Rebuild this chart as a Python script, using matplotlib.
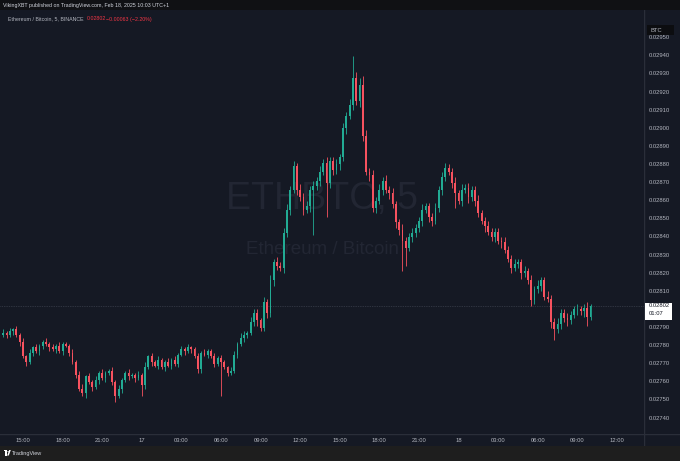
import matplotlib.pyplot as plt
import numpy as np
import pandas as pd
from matplotlib.patches import Rectangle, Circle, Polygon
from matplotlib.transforms import blended_transform_factory

plt.rcParams['font.family'] = ['Liberation Sans', 'DejaVu Sans']

# ETH/BTC, values in units of 0.00001 BTC, 15 min candles starting Feb 16 13:30
start = '2025-02-16 13:30'
first_open = 2786
closes = [
    2787, 2786, 2788, 2789, 2786, 2782, 2774, 2771, 2776, 2779,
    2777, 2780, 2782, 2781, 2779, 2778, 2780, 2777, 2781, 2780,
    2776, 2771, 2764, 2756, 2754, 2763, 2760, 2757, 2761, 2765,
    2762, 2765, 2766, 2760, 2752, 2756, 2761, 2765, 2763, 2764,
    2762, 2764, 2758, 2768, 2774, 2771, 2769, 2772, 2768, 2771,
    2769, 2772, 2770, 2775, 2778, 2777, 2779, 2778, 2774, 2767,
    2776, 2775, 2777, 2774, 2770, 2773, 2771, 2768, 2765, 2766,
    2775, 2781, 2784, 2786, 2787, 2793, 2798, 2794, 2790, 2804,
    2798, 2816, 2826, 2824, 2823, 2842, 2855, 2866, 2879, 2866,
    2862, 2855, 2857, 2866, 2868, 2871, 2876, 2881, 2870, 2882,
    2877, 2880, 2884, 2900, 2907, 2913, 2928, 2915, 2924, 2896,
    2876, 2874, 2856, 2860, 2866, 2871, 2866, 2864, 2858, 2848,
    2844, 2838, 2834, 2840, 2842, 2845, 2849, 2855, 2857, 2851,
    2849, 2856, 2866, 2873, 2878, 2876, 2870, 2864, 2860, 2866,
    2867, 2862, 2866, 2860, 2853, 2849, 2846, 2843, 2840, 2843,
    2838, 2837, 2833, 2828, 2823, 2825, 2826, 2820, 2821, 2816,
    2805, 2811, 2813, 2816, 2807, 2806, 2793, 2789, 2792, 2798,
    2795, 2794, 2797, 2800, 2800, 2799, 2801, 2796, 2802,
]
wick_up = [
    2, 1, 2, 1, 2, 1, 2, 1, 2, 1,
    2, 1, 1, 2, 1, 2, 1, 2, 1, 1,
    1, 2, 1, 2, 3, 1, 2, 1, 2, 1,
    2, 1, 1, 2, 1, 2, 1, 1, 2, 1,
    1, 2, 1, 3, 1, 2, 1, 2, 1, 1,
    2, 1, 2, 1, 2, 1, 2, 1, 1, 2,
    1, 2, 1, 1, 2, 1, 2, 1, 1, 2,
    2, 1, 3, 2, 1, 3, 2, 2, 1, 3,
    2, 3, 2, 3, 2, 3, 3, 2, 3, 2,
    3, 2, 3, 2, 3, 2, 3, 2, 3, 2,
    2, 3, 2, 3, 2, 3, 12, 3, 4, 5,
    3, 2, 3, 2, 3, 2, 3, 2, 3, 2,
    2, 3, 2, 2, 3, 2, 2, 3, 2, 2,
    2, 3, 2, 3, 3, 2, 2, 3, 2, 3,
    2, 3, 2, 2, 3, 2, 2, 3, 2, 2,
    2, 2, 3, 2, 2, 3, 2, 2, 3, 2,
    3, 2, 3, 2, 2, 3, 2, 2, 3, 2,
    2, 3, 2, 2, 3, 2, 2, 3, 1,
]
wick_dn = [
    1, 2, 1, 2, 1, 2, 1, 2, 1, 2,
    1, 2, 2, 1, 2, 1, 2, 1, 2, 1,
    2, 1, 2, 1, 2, 3, 1, 2, 1, 2,
    1, 2, 1, 2, 3, 1, 2, 1, 2, 1,
    2, 1, 6, 2, 1, 2, 1, 2, 1, 2,
    1, 2, 1, 2, 1, 2, 1, 2, 1, 2,
    2, 1, 2, 1, 2, 1, 19, 1, 2, 1,
    1, 2, 1, 2, 2, 1, 2, 3, 2, 2,
    3, 2, 3, 2, 2, 3, 2, 3, 2, 3,
    2, 3, 2, 3, 25, 2, 3, 2, 19, 3,
    3, 2, 3, 2, 3, 2, 3, 2, 3, 3,
    2, 3, 2, 3, 2, 3, 2, 3, 2, 3,
    3, 17, 10, 2, 3, 2, 2, 3, 2, 3,
    3, 2, 2, 3, 2, 2, 3, 8, 2, 3,
    2, 3, 2, 3, 2, 2, 3, 2, 2, 3,
    2, 3, 2, 2, 3, 2, 2, 3, 2, 2,
    3, 2, 2, 3, 2, 2, 3, 6, 2, 3,
    2, 3, 2, 2, 3, 2, 3, 5, 2,
]
price_ticks = [2740, 2750, 2760, 2770, 2780, 2790, 2810, 2820, 2830, 2840,
               2850, 2860, 2870, 2880, 2890, 2900, 2910, 2920, 2930, 2940, 2950]
last_price = 0.02802
change_text = '\u22120.00063 (\u22122.20%)'

BG = '#151924'
UP = '#22ab94'
DOWN = '#f7525f'
LINE = '#2a2e39'
TXT = '#b2b5be'
W, H = 680, 461


def fy(px):
    return 1 - px / H


c = np.array(closes) / 1e5
o = np.concatenate([[first_open], closes[:-1]]) / 1e5
hi = np.maximum(o, c) + np.array(wick_up) / 1e5
lo = np.minimum(o, c) - np.array(wick_dn) / 1e5
x = np.arange(len(c))
col = np.where(c >= o, UP, DOWN)

fig = plt.figure(figsize=(W / 100, H / 100), dpi=100, facecolor=BG)

ax = fig.add_axes([0, fy(434), 644 / W, 424 / H])
ax.set_facecolor(BG)
xlim = (-0.97, 194.2)
ylim = (0.027312, 0.029653)
ax.set_xlim(*xlim)
ax.set_ylim(*ylim)
for s in ax.spines.values():
    s.set_visible(False)
ax.set_xticks([])
ax.set_yticks([])

# watermark
ax.text(0.5, 0.555, 'ETHBTC, 5', transform=ax.transAxes, ha='center', va='center',
        fontsize=27, color='#222633', zorder=0)
ax.text(0.5, 0.435, 'Ethereum / Bitcoin', transform=ax.transAxes, ha='center', va='center',
        fontsize=13.5, color='#222633', zorder=0)

ax.axhline(last_price, color='#4a4f5c', lw=0.5, ls=(0, (1, 1.5)), zorder=1)

ax.vlines(x, lo, hi, colors=col, lw=0.6, zorder=2)
body = np.maximum(np.abs(c - o), 0.0000025)
ax.bar(x, body, bottom=np.minimum(o, c), width=0.55, color=col, linewidth=0, zorder=3)

# price scale
ax2 = fig.add_axes([644 / W, fy(434), 36 / W, 424 / H])
ax2.set_facecolor(BG)
ax2.set_ylim(*ylim)
ax2.set_xlim(0, 1)
ax2.set_xticks([])
ax2.set_yticks([])
for s in ax2.spines.values():
    s.set_visible(False)
ax2.axvline(0, color=LINE, lw=1)
for p in price_ticks:
    ax2.text(0.12, p / 1e5, '%.5f' % (p / 1e5), ha='left', va='center', fontsize=4.2, color=TXT)
tr = blended_transform_factory(ax2.transAxes, ax2.transData)
ax2.add_patch(Rectangle((0.03, last_price - 0.0000775), 0.76, 0.0000950, transform=tr,
                        facecolor='white', edgecolor='none', zorder=4))
ax2.text(0.12, last_price, '%.5f' % last_price, ha='left', va='center', fontsize=4.2,
         color='#131722', zorder=5)
ax2.text(0.12, last_price - 0.0000440, '01:07', ha='left', va='center',
         fontsize=4.2, color='#131722', zorder=5)
ax2.add_patch(Rectangle((0.08, 0.94), 0.75, 0.024, transform=ax2.transAxes,
                        facecolor='#0c0d10', edgecolor='none'))
ax2.text(0.18, 0.952, 'BTC', transform=ax2.transAxes, ha='left', va='center',
         fontsize=4.2, color=TXT)

# time scale
ax3 = fig.add_axes([0, fy(446), 644 / W, 12 / H])
ax3.set_facecolor(BG)
ax3.set_xlim(*xlim)
ax3.set_ylim(0, 1)
ax3.set_xticks([])
ax3.set_yticks([])
for s in ax3.spines.values():
    s.set_visible(False)
ax3.axhline(1, color=LINE, lw=1)
t0 = pd.Timestamp(start)
grid = pd.date_range(t0.floor('D'), periods=3 * 8, freq='3h')
for t in grid:
    pos = (t - t0) / pd.Timedelta('15min')
    if xlim[0] < pos < xlim[1] - 4:
        lab = str(t.day) if t.hour == 0 else t.strftime('%H:%M')
        ax3.text(pos, 0.45, lab, ha='center', va='center', fontsize=4.2, color=TXT)

ax4 = fig.add_axes([644 / W, fy(446), 36 / W, 12 / H])
ax4.set_facecolor(BG)
ax4.set_xticks([])
ax4.set_yticks([])
for s in ax4.spines.values():
    s.set_visible(False)
ax4.axvline(0, color=LINE, lw=1)
ax4.axhline(1, color=LINE, lw=1)

# header and footer strips
fig.add_artist(Rectangle((0, fy(10)), 1, 10 / H, transform=fig.transFigure,
                         facecolor='#101114', edgecolor='none'))
fig.add_artist(Rectangle((0, 0), 1, 15 / H, transform=fig.transFigure,
                         facecolor='#1e1e1e', edgecolor='none'))
fig.text(3 / W, fy(7), 'VikingXBT published on TradingView.com, Feb 18, 2025 10:03 UTC+1',
         ha='left', va='baseline', fontsize=3.8, color='#d1d4dc')
fig.text(8 / W, fy(20.5), 'Ethereum / Bitcoin, 5, BINANCE', ha='left', va='baseline',
         fontsize=3.8, color=TXT)
fig.text(87 / W, fy(20.5), '%.5f' % last_price, ha='left', va='baseline', fontsize=3.8,
         color='#f23645')
fig.text(106 / W, fy(20.5), change_text, ha='left', va='baseline', fontsize=3.8,
         color='#f23645')

# TradingView logo mark + name
fig.add_artist(Rectangle((3.5 / W, fy(451.2)), 3.6 / W, 1.3 / H, transform=fig.transFigure,
                         facecolor='white', edgecolor='none'))
fig.add_artist(Rectangle((5.2 / W, fy(455.5)), 1.3 / W, 4.4 / H, transform=fig.transFigure,
                         facecolor='white', edgecolor='none'))
fig.add_artist(Circle((8.1 / W, fy(451.6)), 0.75 / W, transform=fig.transFigure,
                      facecolor='white', edgecolor='none'))
fig.add_artist(Polygon([(9.2 / W, fy(450.0)), (10.8 / W, fy(450.0)), (8.8 / W, fy(455.5)),
                        (7.2 / W, fy(455.5))], closed=True, transform=fig.transFigure,
                       facecolor='white', edgecolor='none'))
fig.text(12 / W, fy(453), 'TradingView', ha='left', va='center', fontsize=4.0, color='#d1d4dc')

fig.savefig('out.png', dpi=100, facecolor=BG)
